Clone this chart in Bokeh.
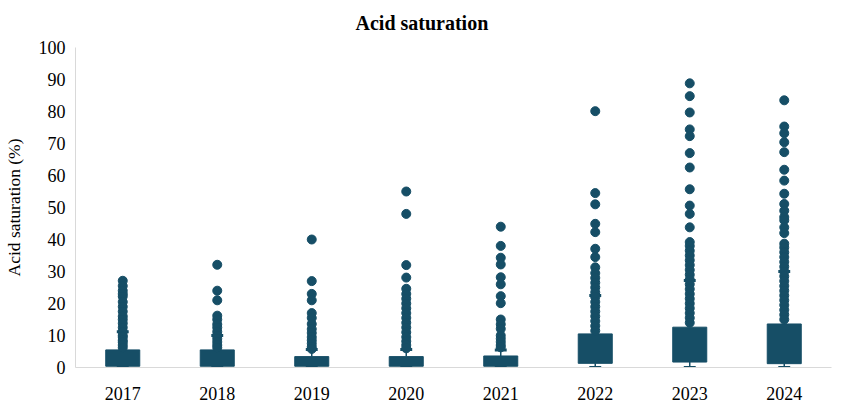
from bokeh.plotting import figure
from bokeh.models import FactorRange, Range1d, FixedTicker, ColumnDataSource
from bokeh.embed import file_html
from bokeh.resources import INLINE

years = ["2017", "2018", "2019", "2020", "2021", "2022", "2023", "2024"]
q1 = [0.4, 0.4, 0.4, 0.4, 0.4, 1.3, 1.7, 1.2]
q3 = [5.5, 5.5, 3.4, 3.4, 3.6, 10.5, 12.6, 13.6]
whisker_low = [0, 0, 0, 0, 0, 0, 0, 0]
whisker_high = [11.2, 10.0, 5.6, 5.6, 5.5, 22.5, 27.2, 30.0]

points = {
    "2017": [27.1, 25.5, 24, 23, 22.2, 20.5, 19, 17.5, 16, 15, 13.8, 12.5, 11.2, 10, 9.5, 8.5, 7.9, 7, 6.2],
    "2018": [32.1, 24, 21, 16.2, 15, 13.5, 12.5, 11.2, 10, 9, 8, 7, 6.2],
    "2019": [40, 27, 23, 21, 17, 15.5, 13.6, 12, 10.8, 9.5, 8.5, 7.5, 6.5, 5.8],
    "2020": [55, 48, 32, 28.1, 24.6, 23, 21.5, 20, 18.5, 17, 15.5, 14, 12.5, 11, 9.5, 8.2, 7, 6],
    "2021": [44, 38, 34.3, 32.2, 28.2, 26, 22.3, 20.1, 15, 13.5, 12.1, 10, 9, 8, 7, 6.3],
    "2022": [80.1, 54.5, 51, 44.9, 42.3, 37.1, 34.5, 31.3, 29.5, 28, 26.5, 25, 23.5, 22, 20.5,
             19, 17.5, 16, 14.5, 13, 11.5],
    "2023": [88.8, 84.8, 79.7, 74.4, 72.3, 67, 62.5, 55.7, 50.6, 48, 43.8, 39.2, 38, 36.5, 35,
             33.5, 32, 30.5, 29, 27.5, 26, 24.5, 23, 21.5, 20, 18.5, 17, 15.5, 14],
    "2024": [83.5, 75.3, 73.2, 70.4, 67.3, 61.8, 58.4, 54.3, 51.1, 49, 47, 46, 43.8, 42, 38.7,
             37.5, 36, 34.5, 33, 31.5, 30, 28.5, 27, 25.5, 24, 22.5, 21, 19.5, 18, 16.5, 15],
}

y_ticks = list(range(0, 101, 10))

color = "#164e66"
serif = "Liberation Serif"

p = figure(
    x_range=FactorRange(*years, range_padding=0, factor_padding=0),
    y_range=Range1d(0, 100),
    width=834, height=407,
    output_backend="svg", toolbar_location=None,
    min_border_left=71, min_border_right=3, min_border_top=47, min_border_bottom=40,
    title="Acid saturation",
)

p.title.text_font = serif
p.title.text_font_size = "20px"
p.title.text_font_style = "bold"
p.title.align = "left"
p.title.vertical_align = "top"
p.title.offset = 280
p.title.standoff = 23
p.title.text_color = "#000000"

# whiskers
p.segment(x0=years, y0=whisker_low, x1=years, y1=q1, line_color=color, line_width=1.5)
p.segment(x0=years, y0=q3, x1=years, y1=whisker_high, line_color=color, line_width=1.5)
# boxes
p.vbar(x=years, bottom=q1, top=q3, width=0.36, fill_color=color, line_color=color)
# caps
p.rect(x=years, y=whisker_low, width=0.126, height=3, height_units="screen",
       fill_color=color, line_color=None)
p.rect(x=years, y=whisker_high, width=0.126, height=3, height_units="screen",
       fill_color=color, line_color=None)

xs, ys = [], []
for yr in years:
    for v in points[yr]:
        xs.append(yr)
        ys.append(v)
src = ColumnDataSource(dict(x=xs, y=ys))
p.scatter("x", "y", source=src, size=9, fill_color=color, line_color=color)

p.xgrid.grid_line_color = None
p.ygrid.grid_line_color = None
p.outline_line_color = None

p.yaxis.ticker = FixedTicker(ticks=y_ticks)
p.yaxis.axis_label = "Acid saturation (%)"
p.yaxis.axis_label_text_font = serif
p.yaxis.axis_label_text_font_size = "17.5px"
p.yaxis.axis_label_text_font_style = "normal"
p.yaxis.axis_label_text_color = "#000000"
p.yaxis.axis_label_standoff = 12

for ax in (p.xaxis, p.yaxis):
    ax.axis_line_color = "#d9d9d9"
    ax.major_tick_line_color = None
    ax.minor_tick_line_color = None
    ax.major_tick_out = 0
    ax.major_tick_in = 0
    ax.minor_tick_out = 0
    ax.minor_tick_in = 0
    ax.major_label_text_font = serif
    ax.major_label_text_font_size = "18px"
    ax.major_label_text_color = "#000000"
p.yaxis.major_label_standoff = 10
p.xaxis.major_label_standoff = 19

open("out.html", "w").write(file_html(p, INLINE))
